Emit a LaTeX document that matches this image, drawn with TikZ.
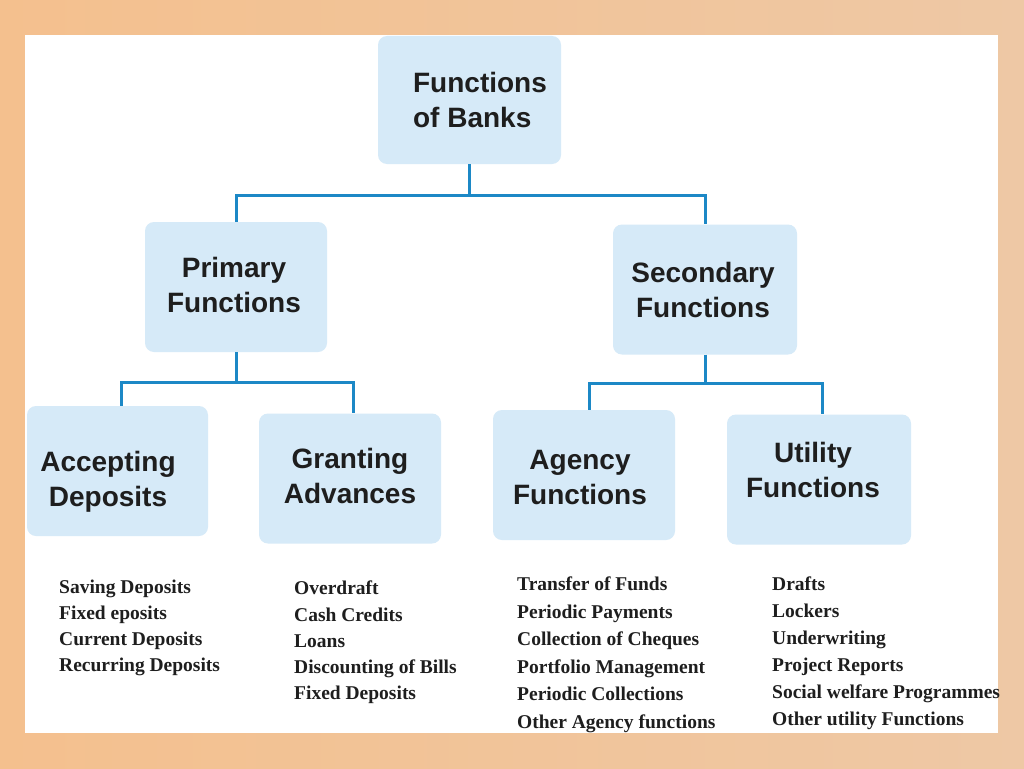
\documentclass[tikz,border=0pt]{standalone}
\usepackage{fontspec}
\setmainfont{Liberation Serif}
\newfontfamily\boxfont{Liberation Sans}
\definecolor{bgpeach}{RGB}{244,192,142}
\definecolor{bgpeach2}{RGB}{238,200,165}
\definecolor{boxblue}{RGB}{214,234,248}
\definecolor{linkblue}{RGB}{28,136,198}
\definecolor{txt}{RGB}{30,30,30}
\tikzset{
  fbox/.style={fill=boxblue, rounded corners=9pt, minimum width=#1, minimum height=130pt,
    inner sep=0pt},
  boxtext/.style={inner sep=0pt, align=center, font=\boxfont\bfseries\fontsize{28}{35}\selectfont, text=txt},
  conn/.style={draw=linkblue, line width=3pt},
  itemlist/.style={anchor=north west, align=left, inner sep=0pt,
    font=\bfseries\fontsize{19.5}{27.5}\selectfont, text=txt}
}
\begin{document}
\begin{tikzpicture}[x=1pt,y=-1pt]
\useasboundingbox (0,0) rectangle (1024,768);
\shade[left color=bgpeach, right color=bgpeach2] (0,0) rectangle (1024,768);
\fill[white] (25,35) rectangle (998,733);

\node[fbox=183pt, minimum height=128pt] (root) at (469.5,100) {};
\node[fbox=182pt] (prim) at (236,287) {};
\node[fbox=184pt] (sec) at (705,289.5) {};
\node[fbox=181pt] (acc) at (117.5,471) {};
\node[fbox=182pt] (gra) at (350,478.5) {};
\node[fbox=182pt] (age) at (584,475) {};
\node[fbox=184pt] (uti) at (819,479.5) {};

\node[boxtext, align=left] (root-t) at ([xshift=10.5pt]root.center) {Functions\\of Banks};
\node[boxtext] (prim-t) at ([xshift=-2pt,yshift=2pt]prim.center) {Primary\\Functions};
\node[boxtext] (sec-t) at ([xshift=-2pt]sec.center) {Secondary\\Functions};
\node[boxtext] (acc-t) at ([xshift=-9.5pt,yshift=-11pt]acc.center) {Accepting\\Deposits};
\node[boxtext] (gra-t) at ([yshift=2.5pt]gra.center) {Granting\\Advances};
\node[boxtext] (age-t) at ([xshift=-4pt,yshift=-2pt]age.center) {Agency\\Functions};
\node[boxtext] (uti-t) at ([xshift=-6pt,yshift=10pt]uti.center) {Utility\\Functions};

\coordinate (j1) at (469.5,195);
\coordinate (j2) at (236,382);
\coordinate (j3) at (705,383);
\draw[conn] (root.south) -- (j1);
\draw[conn] (j1) -| (prim.north);
\draw[conn] (j1) -| (sec.north);
\draw[conn] (prim.south) -- (j2);
\draw[conn] (j2) -| ([xshift=3.5pt]acc.north);
\draw[conn] (j2) -| ([xshift=3pt]gra.north);
\draw[conn] (sec.south) -- (j3);
\draw[conn] (j3) -| ([xshift=5pt]age.north);
\draw[conn] (j3) -| ([xshift=3pt]uti.north);

\node[itemlist, font=\bfseries\fontsize{19.5}{26}\selectfont] (lacc) at (59,580) {Saving Deposits\\Fixed eposits\\Current Deposits\\Recurring Deposits};
\node[itemlist, font=\bfseries\fontsize{19.5}{26.2}\selectfont] (lgra) at (294,581) {Overdraft\\Cash Credits\\Loans\\Discounting of Bills\\Fixed Deposits};
\node[itemlist] (lage) at (517,577) {Transfer of Funds\\Periodic Payments\\Collection of Cheques\\Portfolio Management\\Periodic Collections\\Other Agency functions};
\node[itemlist, font=\bfseries\fontsize{19.5}{27}\selectfont] (luti) at (772,577) {Drafts\\Lockers\\Underwriting\\Project Reports\\Social welfare Programmes\\Other utility Functions};
\end{tikzpicture}
\end{document}
